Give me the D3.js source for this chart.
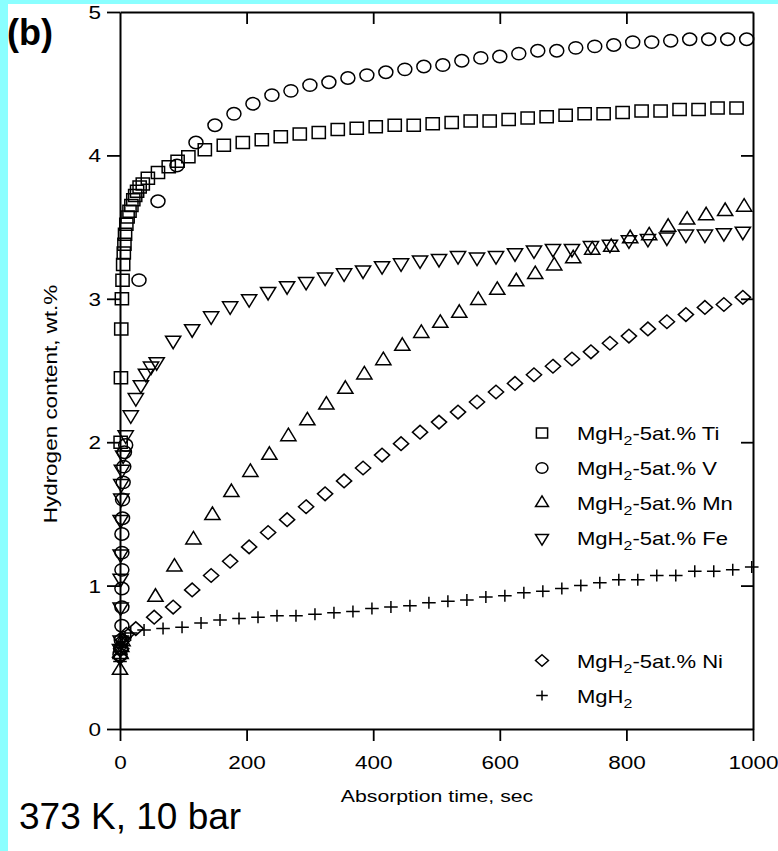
<!DOCTYPE html>
<html>
<head>
<meta charset="utf-8">
<script src="https://cdn.jsdelivr.net/npm/d3@7"></script>
<style>
  html, body { margin: 0; padding: 0; background: #8affff; }
  svg { display: block; }
</style>
</head>
<body>
<div id="wrapper"></div>
<script>
// [time (s), hydrogen content (wt.%)]
const tiPts = [
  [1,2.00],[1.5,2.45],[2,2.79],[3,3.00],[4,3.13],[5,3.24],[6,3.32],[7,3.38],[8,3.45],[10,3.52],[12,3.57],[15,3.61],
  [18,3.65],[21,3.69],[24,3.72],[27,3.75],[31,3.78],[36,3.80],[44,3.84],[60,3.88],[77,3.92],[91,3.96],[108,3.99],
  [134,4.04],[164,4.07],[194,4.09],[224,4.11],[254,4.13],[284,4.15],[314,4.16],[344,4.18],[374,4.19],[404,4.20],
  [434,4.21],[464,4.21],[494,4.22],[524,4.23],[554,4.24],[584,4.24],[614,4.25],[644,4.26],[674,4.27],[704,4.28],
  [734,4.29],[764,4.29],[794,4.30],[824,4.31],[854,4.31],[884,4.32],[914,4.32],[944,4.33],[974,4.33]
]
const vPts = [
  [0,0.52],[1,0.56],[2,0.62],[3,0.72],[3,0.85],[3,0.98],[3,1.11],[3,1.23],[3,1.36],[4,1.47],[4,1.60],[5,1.72],
  [6,1.83],[7,1.93],[9,1.98],
  [30,3.13],[60,3.68],[90,3.93],[120,4.09],[150,4.21],[180,4.29],[210,4.36],[240,4.42],[270,4.45],[300,4.49],
  [330,4.51],[360,4.54],[390,4.56],[420,4.58],[450,4.60],[480,4.62],[510,4.63],[540,4.66],[570,4.68],[600,4.69],
  [630,4.71],[660,4.73],[690,4.73],[720,4.75],[750,4.76],[780,4.77],[810,4.79],[840,4.79],[870,4.80],[900,4.81],
  [930,4.81],[960,4.81],[990,4.81]
]
const mnPts = [
  [0,0.41],[1,0.52],[2,0.57],[4,0.61],
  [56,0.92],[86,1.13],[116,1.32],[146,1.49],[176,1.65],[206,1.79],[236,1.91],[266,2.04],[296,2.15],[326,2.26],
  [356,2.37],[386,2.47],[416,2.57],[446,2.67],[476,2.76],[506,2.83],[536,2.90],[566,2.99],[596,3.06],[626,3.12],
  [656,3.17],[686,3.23],[716,3.28],[746,3.34],[776,3.36],[806,3.42],[836,3.44],[866,3.50],[896,3.55],[926,3.58],
  [956,3.61],[986,3.64]
]
const fePts = [
  [0,0.56],[1,0.62],[1,0.85],[1,1.05],[1,1.22],[1,1.46],[2,1.61],[2,1.71],[3,1.81],[5,1.91],[9,2.05],[17,2.19],
  [25,2.31],[33,2.40],[41,2.48],[49,2.53],[58,2.56],
  [84,2.71],[114,2.79],[144,2.88],[174,2.95],[204,3.00],[234,3.05],[264,3.09],[294,3.12],[324,3.15],[354,3.18],
  [384,3.20],[414,3.23],[444,3.25],[474,3.27],[504,3.28],[534,3.30],[564,3.29],[594,3.30],[624,3.32],[654,3.34],
  [684,3.35],[714,3.35],[744,3.37],[774,3.38],[804,3.41],[834,3.42],[864,3.43],[894,3.45],[924,3.45],[954,3.46],
  [984,3.47]
]
const niPts = [
  [0,0.50],[2,0.56],[5,0.62],[10,0.66],
  [25,0.70],[54,0.78],[84,0.85],[114,0.97],[144,1.07],[174,1.17],[204,1.27],[234,1.37],[264,1.46],[294,1.55],
  [324,1.64],[354,1.73],[384,1.82],[414,1.91],[444,1.99],[474,2.07],[504,2.14],[534,2.21],[564,2.28],[594,2.35],
  [624,2.41],[654,2.47],[684,2.53],[714,2.58],[744,2.63],[774,2.69],[804,2.74],[834,2.79],[864,2.84],[894,2.89],
  [924,2.94],[954,2.96],[984,3.01]
]
const mgPts = [
  [0,0.47],[1,0.52],[2,0.57],[4,0.61],[8,0.64],[17,0.67],
  [38,0.69],[68,0.70],[98,0.71],[128,0.74],[158,0.76],[188,0.77],[218,0.78],[248,0.79],[278,0.79],[308,0.80],
  [338,0.81],[368,0.82],[398,0.84],[428,0.85],[458,0.86],[488,0.88],[518,0.89],[548,0.90],[578,0.92],[608,0.93],
  [638,0.95],[668,0.96],[698,0.98],[728,1.00],[758,1.02],[788,1.04],[818,1.04],[848,1.07],[878,1.07],[908,1.10],
  [938,1.10],[968,1.11],[998,1.13]
]

const xTicks = [0, 200, 400, 600, 800, 1000]
const yTicks = [0, 1, 2, 3, 4, 5]

// legend: [marker, element] ; label is "MgH2-5at.% " + element
const legendItems = [
  ["square", "Ti"], ["circle", "V"], ["triUp", "Mn"], ["triDown", "Fe"], ["diamond", "Ni"], ["plus", ""]
]
const seriesList = [
  ["square", tiPts], ["circle", vPts], ["triUp", mnPts], ["triDown", fePts], ["diamond", niPts], ["plus", mgPts]
]

const W = 778, H = 851
const SX = 1.25   // the original figure is stretched sideways
const font = "'Liberation Sans', Arial, Helvetica, sans-serif"

const dimensions = {
  margin: { top: 12, left: 120 },
  boundedWidth: 633,
  boundedHeight: 717,
}

const svg = d3.select("#wrapper").append("svg")
  .attr("width", W)
  .attr("height", H)

svg.append("rect").attr("width", W).attr("height", H).attr("fill", "#8affff")
svg.append("rect").attr("x", 8).attr("y", 4).attr("width", W - 8).attr("height", H - 4).attr("fill", "#fff")

const bounds = svg.append("g")
  .attr("transform", `translate(${dimensions.margin.left},${dimensions.margin.top})`)

const xScale = d3.scaleLinear().domain([0, 1000]).range([0, dimensions.boundedWidth])
const yScale = d3.scaleLinear().domain([0, 5]).range([dimensions.boundedHeight, 0])

// marker shapes
function markerPath(type, s = 1) {
  const a = 6.6 * s, b = 6 * s
  switch (type) {
    case "square": return `M${-a},${-b}H${a}V${b}H${-a}Z`
    case "circle": {
      const rx = 7 * s, ry = 6.2 * s
      return `M${rx},0A${rx},${ry} 0 1,1 ${-rx},0A${rx},${ry} 0 1,1 ${rx},0Z`
    }
    case "triUp": {
      const w = 7.6 * s, h = 12.5 * s
      return `M0,${-2 * h / 3}L${w},${h / 3}L${-w},${h / 3}Z`
    }
    case "triDown": {
      const w = 7.6 * s, h = 12.5 * s
      return `M0,${2 * h / 3}L${w},${-h / 3}L${-w},${-h / 3}Z`
    }
    case "diamond": {
      const dx = 7.6 * s, dy = 6.8 * s
      return `M0,${-dy}L${dx},0L0,${dy}L${-dx},0Z`
    }
    case "plus": {
      const p = 6.8 * s, q = 6 * s
      return `M${-p},0H${p}M0,${-q}V${q}`
    }
  }
}

// axes
const axisStyle = g => {
  g.select(".domain").attr("stroke", "#000").attr("stroke-width", 2)
  g.selectAll(".tick line").attr("stroke", "#000").attr("stroke-width", 1.8)
}

const xAxis = bounds.append("g")
  .attr("transform", `translate(0,${dimensions.boundedHeight})`)
  .call(d3.axisBottom(xScale).tickValues(xTicks).tickSize(12).tickSizeOuter(0).tickFormat(d3.format("d")))
  .call(axisStyle)
xAxis.selectAll(".tick text")
  .attr("font-family", font).attr("font-size", 18).attr("fill", "#000")
  .attr("y", 40).attr("dy", 0)
  .attr("transform", `scale(${SX},1)`)

const yAxis = bounds.append("g")
  .call(d3.axisLeft(yScale).tickValues(yTicks).tickSize(13).tickSizeOuter(0).tickFormat(d3.format("d")))
  .call(axisStyle)
yAxis.selectAll(".tick text")
  .attr("font-family", font).attr("font-size", 18).attr("fill", "#000")
  .attr("x", -19 / SX).attr("dy", "0.36em")
  .attr("transform", `scale(${SX},1)`)

bounds.append("g")
  .call(d3.axisTop(xScale).tickValues(xTicks.slice(1, -1)).tickSize(-12).tickSizeOuter(0).tickFormat(""))
  .call(axisStyle)

bounds.append("g")
  .attr("transform", `translate(${dimensions.boundedWidth},0)`)
  .call(d3.axisRight(yScale).tickValues(yTicks.slice(1, -1)).tickSize(-12).tickSizeOuter(0).tickFormat(""))
  .call(axisStyle)

// data
seriesList.forEach(([type, pts]) => {
  bounds.append("g")
    .selectAll("path")
    .data(pts)
    .join("path")
      .attr("d", markerPath(type))
      .attr("transform", d => `translate(${xScale(d[0])},${yScale(d[1])})`)
      .attr("fill", "none")
      .attr("stroke", "#000")
      .attr("stroke-width", 1.5)
})

// legend
const legendSlot = [0, 1, 2, 3, 6.5, 7.5]
const legend = svg.append("g").attr("transform", "translate(542,433)")
legendItems.forEach(([type, el], i) => {
  const row = legend.append("g").attr("transform", `translate(0,${legendSlot[i] * 35})`)
  row.append("path")
    .attr("d", markerPath(type, 0.85))
    .attr("fill", "none").attr("stroke", "#000").attr("stroke-width", 1.5)
  const t = row.append("text")
    .attr("transform", `translate(35,7) scale(${SX * 0.98},1)`)
    .attr("font-family", font).attr("font-size", 18).attr("fill", "#000")
  t.append("tspan").text("MgH")
  t.append("tspan").attr("font-size", 13).attr("dy", 5).text("2")
  if (el) t.append("tspan").attr("dy", -5).text("-5at.% " + el)
})

// axis titles
svg.append("text")
  .attr("transform", `translate(437,802) scale(${SX},1)`)
  .attr("text-anchor", "middle")
  .attr("font-family", font).attr("font-size", 17).attr("fill", "#000")
  .text("Absorption time, sec")

svg.append("text")
  .attr("transform", "translate(57,404) rotate(-90) scale(1,0.8)")
  .attr("text-anchor", "middle")
  .attr("font-family", font).attr("font-size", 22.5).attr("fill", "#000")
  .text("Hydrogen content, wt.%")

svg.append("text")
  .attr("x", 7).attr("y", 45)
  .attr("font-family", font).attr("font-size", 36).attr("font-weight", "bold").attr("fill", "#000")
  .text("(b)")

svg.append("text")
  .attr("x", 19).attr("y", 829)
  .attr("font-family", font).attr("font-size", 37).attr("fill", "#000")
  .text("373 K, 10 bar")
</script>
</body>
</html>
